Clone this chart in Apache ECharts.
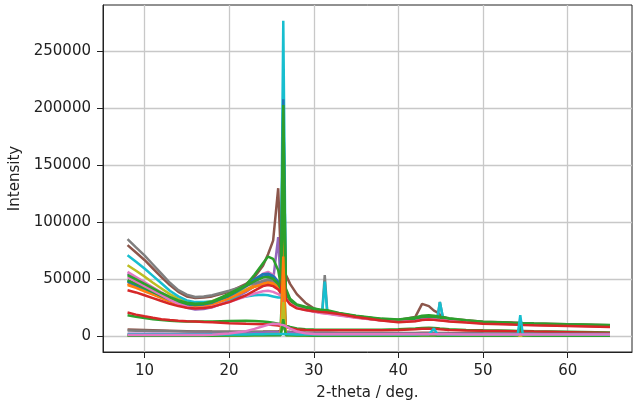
<!DOCTYPE html>
<html><head><meta charset="utf-8">
<script src="https://cdn.jsdelivr.net/npm/echarts@6/dist/echarts.min.js"></script>
<style>html,body{margin:0;padding:0;background:#fff}#c{width:633px;height:404px}</style>
</head><body><div id="c"></div>
<script>
// 2-theta grid (deg.)
const twoTheta = [8,9,10,11,12,13,14,15,16,17,18,20,22,23,24,24.6,25.2,25.8,26.1,26.4,26.7,27.2,28,29,30,31,31.3,31.6,33,35,38,40,42,42.8,43.6,44.2,44.6,44.9,45.3,46,48,50,53.5,54.1,54.4,54.7,56,60,65];
const xTicks = [10,20,30,40,50,60];
const yTicks = [0,50000,100000,150000,200000,250000];

// upper group
const orangeA = [46300,43500,40500,37500,34500,31500,29000,27500,26800,27200,28500,34000,41000,45000,47500,48000,47000,43500,40000,105000,36000,30500,26000,24000,22500,21000,20800,20600,19000,16800,14300,13300,14000,15000,15500,15300,15000,14800,14600,14000,13000,12000,11000,10900,10800,10800,10500,9800,9000];
const purpleA = [55000,51000,46500,42000,37000,32500,28000,25000,23500,24000,25500,31000,39000,44000,48500,50000,49000,87000,42000,40000,36000,30000,26000,23800,22200,20800,20600,20400,18800,16600,14100,13100,13800,14800,15200,15000,14700,14500,14300,13700,12700,11800,10800,10700,10600,10600,10300,9600,8800];
const brownA = [80000,73500,67000,59500,52000,45000,39000,35000,33500,34000,35000,39000,46000,52000,62000,72000,84000,130000,70000,65000,54000,46000,37000,29500,24500,22500,22300,22100,20000,17500,15000,14200,17000,28500,26500,22500,21000,19000,17000,15500,14000,12800,12000,11800,11700,11600,11300,10600,9700];
const pinkA = [56500,52000,47500,43000,38500,34000,30000,27000,25500,26000,27500,34000,43500,49000,55000,56500,54000,47000,42000,44000,37000,30500,26000,24000,22500,21000,20800,20600,19000,16800,14300,13300,14000,15000,15500,15300,15000,14800,14600,14000,13000,12000,11000,10900,10800,10800,10500,9800,9000];
const grayA = [85300,78000,71000,63000,55000,47000,40500,36500,34500,35000,36000,40000,44500,46500,48500,49500,49000,46000,43000,150000,38000,31000,26500,24500,23000,21500,53700,21200,19500,17300,14800,13800,14500,15500,16000,15800,15500,30200,15000,14300,13200,12200,11200,11100,11000,11000,10700,10000,9200];
const oliveA = [62400,57500,52500,47000,42000,37000,33000,30000,29000,29500,31000,36000,41000,43500,45500,46000,45000,42000,39000,105000,35000,29500,25500,23500,22000,20700,20500,20300,18800,16600,14100,13100,13800,14800,15200,15000,14700,14500,14300,13700,12700,11800,10800,10700,10600,10600,10300,9600,8800];
const cyanA = [71200,65500,59500,53000,46500,40000,35000,31500,30000,30000,30500,32500,35000,36000,36500,36000,35000,34000,34000,277000,33000,29000,25500,23500,22000,20800,48000,20500,19000,16800,14300,13300,14000,15000,15500,15300,15000,30000,14600,14000,13000,12000,11000,10900,10800,10800,10500,9800,9000];
const blueB = [48000,45000,41500,38000,34500,31500,29000,27500,27000,27500,29000,35000,44000,48500,52500,53000,51500,46500,42000,120000,38000,31000,26500,24200,22800,21300,21100,20900,19300,17100,14600,13600,14300,15300,15800,15600,15300,15000,14800,14100,13100,12100,11100,11000,10900,10900,10600,9900,9100];
const orangeB = [45000,42500,39500,36500,33500,30500,28000,26500,26000,26500,28000,33000,40000,43500,46000,46500,45500,42500,39000,90000,35000,29500,25700,23700,22200,20700,20500,20300,18700,16500,14000,13000,13700,14700,15200,15000,14700,14500,14300,13700,12700,11700,10700,10600,10500,10500,10200,9500,8700];
const blueA = [49000,46000,42500,39000,35500,32000,29500,28000,27500,28000,29500,36000,45000,50000,54500,55000,53000,48000,44000,208000,40000,32000,27000,24500,23000,21500,21300,21100,19500,17300,14800,13800,14500,15500,16000,15800,15500,15200,15000,14300,13200,12200,11200,11100,11000,11000,10700,10000,9200];
const greenB = [49200,46000,42500,39000,35500,32500,30000,28500,28000,28500,30000,36000,44500,48500,51500,52000,50500,46000,42000,130000,38000,31500,27000,25000,23500,22000,21800,21600,20000,17500,15000,14300,15500,17000,17500,17000,16500,16200,15800,15000,13500,12400,11500,11400,11300,11200,10900,10200,9500];
const pinkB = [52000,48000,44000,40000,36000,32000,28500,26000,24500,25000,26000,30000,35000,37500,39500,40000,39000,37000,35500,36000,33000,28500,25000,23000,21500,20200,20000,19800,18300,16200,13800,12800,13500,14500,15000,14800,14500,14300,14100,13500,12500,11500,10500,10400,10300,10300,10000,9300,8500];
const greenA = [53600,50000,46000,42000,38000,34500,31500,29500,28500,29000,30500,37500,45000,54000,64000,70000,68000,58000,45000,203000,42000,33000,28000,26000,24500,23000,23000,22800,20500,18000,15500,14800,16500,18000,18500,18000,17500,17200,16800,15800,14000,12800,11800,11700,11600,11500,11200,10500,9800];
const redA = [40400,38500,36000,33500,31000,28500,26500,25000,24300,24800,25800,30000,36000,40000,44000,45000,44000,41000,38000,60000,33000,28000,24500,23000,22000,21200,21000,20800,19500,17000,13800,12300,13200,14200,14700,14400,14000,13800,13600,13000,12000,11100,10300,10200,10100,10000,9700,9000,8200];
// middle group
const greenMid = [18500,17200,16000,15000,14200,13600,13200,13000,12900,12900,13000,13500,13700,13500,13000,12500,11800,11000,10500,60000,9500,8200,6800,6200,5900,5800,5800,5800,5700,5700,5800,6100,6900,7300,7400,7200,7000,6800,6600,6200,5600,5200,4800,4700,4700,4700,4500,4000,3300];
const redMid = [20800,19000,17500,16200,15000,14200,13600,13200,12900,12600,12400,11500,11000,10800,10500,10300,10000,9500,9000,25000,8000,7000,6000,5600,5400,5300,5300,5300,5200,5200,5300,5500,6200,6600,6700,6500,6300,6100,5900,5600,5100,4800,4400,4300,4300,4300,4100,3600,2900];
// bottom group
const brownBot = [5900,5700,5500,5300,5100,4900,4700,4500,4300,4200,4100,4000,4000,4000,4100,4200,4300,4400,4500,20000,4300,4000,3600,3300,3100,3000,3000,3000,2900,2900,2800,2800,2900,3000,3000,3000,2900,2900,2900,2800,2700,2600,2500,2500,2500,2500,2400,2300,2200];
const grayBot = [5000,4900,4800,4700,4600,4500,4400,4300,4200,4100,4000,3900,3800,3800,3800,3800,3800,3800,3800,9000,3700,3500,3200,3000,2900,2800,2800,2800,2700,2700,2600,2600,2600,2600,2600,2600,2600,2600,2600,2500,2500,2400,2300,2300,2300,2300,2200,2100,2000];
const purpleBot = [2300,2300,2200,2200,2200,2100,2100,2100,2100,2100,2100,2200,2500,2800,3200,3500,3600,3600,3500,40000,3300,3000,2500,2200,2100,2000,2000,2000,2000,2000,1900,1900,2000,2100,2100,2000,2000,2000,2000,1900,1900,1800,1800,1800,1800,1800,1700,1700,1600];
const orangeBot = [1000,1000,1000,1000,1000,1000,1000,1000,1000,1000,1000,1100,1300,1500,1700,1900,2000,2100,2100,70000,2000,1800,1400,1200,1100,1000,1000,1000,1000,1000,1000,1000,1100,1200,1200,1100,1100,1100,1100,1000,1000,1000,1000,1000,1000,1000,1000,900,900];
const oliveBot = [600,600,600,600,600,600,600,600,600,600,600,700,800,900,1000,1100,1200,1300,1300,30000,1200,1000,800,700,600,600,600,600,600,600,600,600,600,700,700,700,600,600,600,600,600,600,600,600,600,600,600,600,500];
const greenBot = [500,500,500,500,500,500,500,500,500,500,500,600,700,800,900,1000,1000,1000,1000,15000,1000,900,700,600,500,500,500,500,500,500,500,500,500,600,600,600,500,500,500,500,500,500,500,600,11000,600,500,500,400];
const cyanBot = [1500,1500,1500,1500,1500,1500,1500,1500,1500,1500,1500,1500,1600,1700,1800,1900,2000,2000,2000,2000,1900,1800,1600,1500,1500,1500,1500,1500,1500,1500,1500,1500,1600,1700,1800,6800,1800,1700,1700,1600,1600,1500,1500,1600,18500,1600,1500,1500,1400];
const pinkBot = [1200,1200,1200,1200,1200,1200,1200,1200,1200,1200,1300,2500,4500,6500,8800,10000,11000,10800,10200,9800,8800,6800,4200,2600,2000,1800,1800,1800,1700,1700,1700,1700,1700,1700,1700,1700,1700,1700,1700,1700,1600,1600,1600,1600,1600,1600,1600,1500,1500];

const seriesSpec = [
  ['orangeA', orangeA, '#ff7f0e'], ['purpleA', purpleA, '#9467bd'], ['brownA', brownA, '#8c564b'],
  ['pinkA', pinkA, '#e377c2'], ['grayA', grayA, '#7f7f7f'], ['oliveA', oliveA, '#bcbd22'],
  ['cyanA', cyanA, '#17becf'], ['blueB', blueB, '#1f77b4'], ['orangeB', orangeB, '#ff7f0e'],
  ['blueA', blueA, '#1f77b4'], ['greenB', greenB, '#2ca02c'], ['pinkB', pinkB, '#e377c2'],
  ['greenA', greenA, '#2ca02c'], ['redA', redA, '#d62728'],
  ['greenMid', greenMid, '#2ca02c'], ['redMid', redMid, '#d62728'],
  ['brownBot', brownBot, '#8c564b'], ['grayBot', grayBot, '#7f7f7f'], ['purpleBot', purpleBot, '#9467bd'],
  ['orangeBot', orangeBot, '#ff7f0e'], ['oliveBot', oliveBot, '#bcbd22'], ['greenBot', greenBot, '#2ca02c'],
  ['cyanBot', cyanBot, '#17becf'], ['pinkBot', pinkBot, '#e377c2']
];

const font = 'DejaVu Sans';
const txt = '#222';
const chart = echarts.init(document.getElementById('c'), null, {renderer: 'canvas'});
chart.setOption({
  animation: false,
  backgroundColor: '#fff',
  grid: {left: 103, top: 5, width: 529, height: 347, show: true, borderColor: '#222', borderWidth: 1,
         backgroundColor: 'transparent', containLabel: false, outerBoundsMode: 'none'},
  xAxis: {
    type: 'value', min: 5.1, max: 67.6,
    name: '2-theta / deg.', nameLocation: 'middle', nameGap: 34,
    nameTextStyle: {fontFamily: font, fontSize: 15, color: txt},
    axisLine: {show: true, onZero: false, lineStyle: {color: '#222', width: 1}},
    axisTick: {show: true, length: 6, customValues: xTicks, lineStyle: {color: '#222'}},
    axisLabel: {customValues: xTicks, margin: 12, fontFamily: font, fontSize: 15, color: txt,
                formatter: v => String(v)},
    splitLine: {show: true, customValues: xTicks, lineStyle: {color: '#c8c8c8', width: 1.3}}
  },
  yAxis: {
    type: 'value', min: -13800, max: 290800,
    name: 'Intensity', nameLocation: 'middle', nameGap: 78, nameRotate: 90,
    nameTextStyle: {fontFamily: font, fontSize: 15, color: txt},
    axisLine: {show: true, onZero: false, lineStyle: {color: '#222', width: 1}},
    axisTick: {show: true, length: 6, customValues: yTicks, lineStyle: {color: '#222'}},
    axisLabel: {customValues: yTicks, margin: 12, fontFamily: font, fontSize: 15, color: txt,
                formatter: v => String(Math.round(v))},
    splitLine: {show: true, customValues: yTicks, lineStyle: {color: '#c8c8c8', width: 1.3}}
  },
  series: seriesSpec.map(([name, vals, color]) => ({
    name: name, type: 'line', showSymbol: false, symbol: 'none',
    data: twoTheta.map((x, i) => [x, vals[i]]),
    lineStyle: {color: color, width: 2.5}, itemStyle: {color: color},
    emphasis: {disabled: true}, clip: true
  }))
});
</script></body></html>
